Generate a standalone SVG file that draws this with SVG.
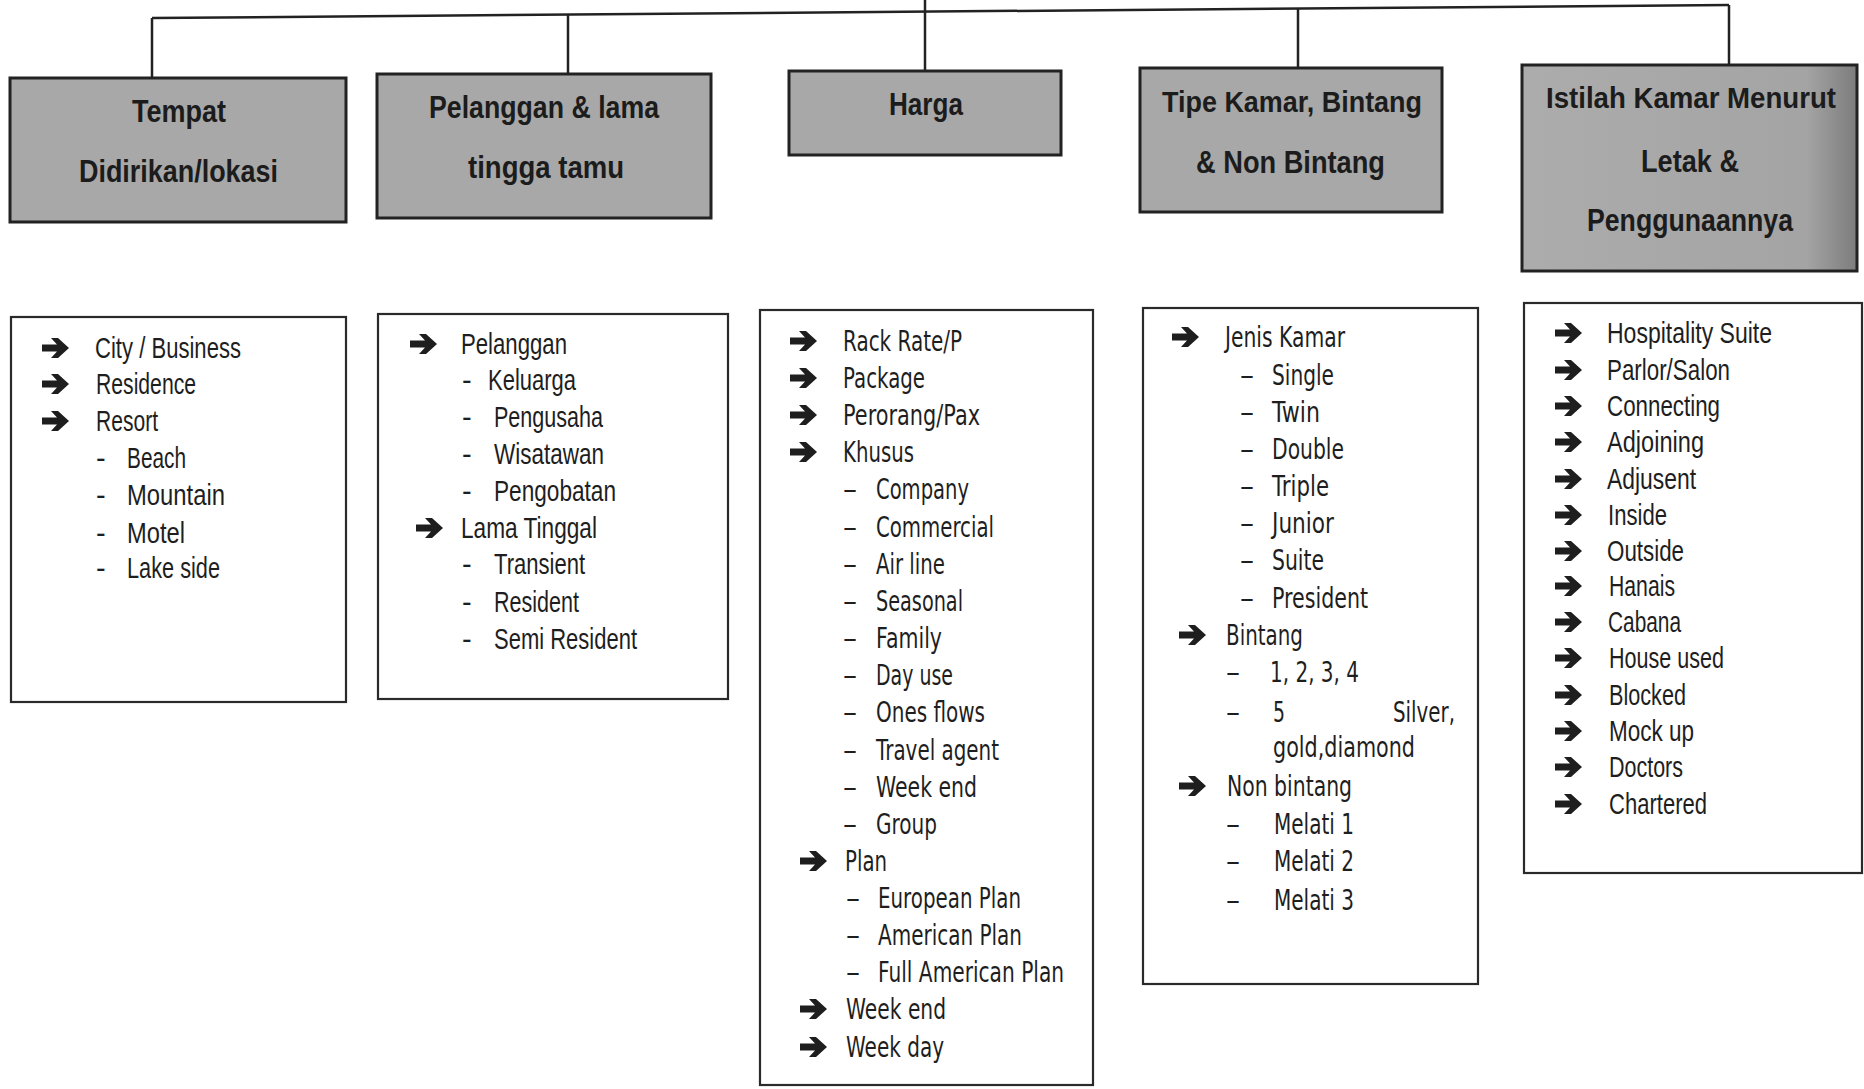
<svg xmlns="http://www.w3.org/2000/svg" xmlns:xlink="http://www.w3.org/1999/xlink" width="1864" height="1089" viewBox="0 0 1864 1089">
<style>
.hdr{fill:#a8a8a8;stroke:#222;stroke-width:3}
.hdrt{font-family:"Liberation Sans Narrow","Liberation Sans",Arial,sans-serif;font-weight:bold;font-size:32px;fill:#1c1c1c}
.box{fill:#fff;stroke:#2a2a2a;stroke-width:2.2}
.c{font-family:"Liberation Sans Narrow","Liberation Sans",Arial,sans-serif;font-size:29px;fill:#1e1e1e}
.w{font-family:"DejaVu Sans","Liberation Sans",Verdana,sans-serif;font-size:28px;fill:#1e1e1e}
.ln{stroke:#222;stroke-width:2.5;fill:none}
.arr{fill:#1e1e1e}
</style>
<defs>
<path id="arr" class="arr" d="M0,-3.5 H15 L9,-10 H16 L27,0 L16,10 H9 L15,3.5 H0 Z"/>
<linearGradient id="g5" x1="0" y1="0" x2="1" y2="0">
<stop offset="0" stop-color="#acacac"/>
<stop offset="0.85" stop-color="#a4a4a4"/>
<stop offset="1" stop-color="#7c7c7c"/>
</linearGradient>
</defs>
<rect width="1864" height="1089" fill="#fff"/>

<g id="connectors">
<line class="ln" x1="152" y1="18" x2="1729" y2="5"/>
<line class="ln" x1="925" y1="0" x2="925" y2="71"/>
<line class="ln" x1="152" y1="18" x2="152" y2="78"/>
<line class="ln" x1="568" y1="14.5" x2="568" y2="74"/>
<line class="ln" x1="1298" y1="8.5" x2="1298" y2="68"/>
<line class="ln" x1="1729" y1="5" x2="1729" y2="65"/>
</g>

<g id="h1">
<rect class="hdr" x="10" y="78" width="336" height="144"/>
<text class="hdrt" x="132" y="122" textLength="94" lengthAdjust="spacingAndGlyphs">Tempat</text>
<text class="hdrt" x="79" y="182" textLength="199" lengthAdjust="spacingAndGlyphs">Didirikan/lokasi</text>
</g>
<g id="h2">
<rect class="hdr" x="377" y="74" width="334" height="144"/>
<text class="hdrt" x="429" y="118" textLength="230" lengthAdjust="spacingAndGlyphs">Pelanggan &amp; lama</text>
<text class="hdrt" x="468" y="178" textLength="156" lengthAdjust="spacingAndGlyphs">tingga tamu</text>
</g>
<g id="h3">
<rect class="hdr" x="789" y="71" width="272" height="84"/>
<text class="hdrt" x="889" y="115" textLength="74" lengthAdjust="spacingAndGlyphs">Harga</text>
</g>
<g id="h4">
<rect class="hdr" x="1140" y="68" width="302" height="144"/>
<text class="hdrt" x="1162" y="112" textLength="260" lengthAdjust="spacingAndGlyphs" style="font-size:30px">Tipe Kamar, Bintang</text>
<text class="hdrt" x="1196" y="173" textLength="189" lengthAdjust="spacingAndGlyphs">&amp; Non Bintang</text>
</g>
<g id="h5">
<rect class="hdr" x="1522" y="65" width="335" height="206" style="fill:url(#g5)"/>
<text class="hdrt" x="1546" y="108" textLength="290" lengthAdjust="spacingAndGlyphs" style="font-size:30px">Istilah Kamar Menurut</text>
<text class="hdrt" x="1641" y="172" textLength="98" lengthAdjust="spacingAndGlyphs">Letak &amp;</text>
<text class="hdrt" x="1587" y="231" textLength="206" lengthAdjust="spacingAndGlyphs">Penggunaannya</text>
</g>

<g id="c1">
<rect class="box" x="11" y="317" width="335" height="385"/>
<use href="#arr" x="42" y="348"/>
<text class="c" x="95" y="358" textLength="146" lengthAdjust="spacingAndGlyphs">City / Business</text>
<use href="#arr" x="42" y="384"/>
<text class="c" x="96" y="394" textLength="100" lengthAdjust="spacingAndGlyphs">Residence</text>
<use href="#arr" x="42" y="421"/>
<text class="c" x="96" y="431" textLength="62" lengthAdjust="spacingAndGlyphs">Resort</text>
<text class="c" x="96" y="468">-</text>
<text class="c" x="127" y="468" textLength="59" lengthAdjust="spacingAndGlyphs">Beach</text>
<text class="c" x="96" y="505">-</text>
<text class="c" x="127" y="505" textLength="98" lengthAdjust="spacingAndGlyphs">Mountain</text>
<text class="c" x="96" y="543">-</text>
<text class="c" x="127" y="543" textLength="58" lengthAdjust="spacingAndGlyphs">Motel</text>
<text class="c" x="96" y="578">-</text>
<text class="c" x="127" y="578" textLength="93" lengthAdjust="spacingAndGlyphs">Lake side</text>
</g>

<g id="c2">
<rect class="box" x="378" y="314" width="350" height="385"/>
<use href="#arr" x="410" y="344"/>
<text class="c" x="461" y="354" textLength="106" lengthAdjust="spacingAndGlyphs">Pelanggan</text>
<text class="c" x="462" y="390">-</text>
<text class="c" x="488" y="390" textLength="88" lengthAdjust="spacingAndGlyphs">Keluarga</text>
<text class="c" x="462" y="427">-</text>
<text class="c" x="494" y="427" textLength="109" lengthAdjust="spacingAndGlyphs">Pengusaha</text>
<text class="c" x="462" y="464">-</text>
<text class="c" x="494" y="464" textLength="110" lengthAdjust="spacingAndGlyphs">Wisatawan</text>
<text class="c" x="462" y="501">-</text>
<text class="c" x="494" y="501" textLength="122" lengthAdjust="spacingAndGlyphs">Pengobatan</text>
<use href="#arr" x="416" y="528"/>
<text class="c" x="461" y="538" textLength="136" lengthAdjust="spacingAndGlyphs">Lama Tinggal</text>
<text class="c" x="462" y="574">-</text>
<text class="c" x="494" y="574" textLength="91" lengthAdjust="spacingAndGlyphs">Transient</text>
<text class="c" x="462" y="612">-</text>
<text class="c" x="494" y="612" textLength="85" lengthAdjust="spacingAndGlyphs">Resident</text>
<text class="c" x="462" y="649">-</text>
<text class="c" x="494" y="649" textLength="143" lengthAdjust="spacingAndGlyphs">Semi Resident</text>
</g>

<g id="c3">
<rect class="box" x="760" y="310" width="333" height="775"/>
<use href="#arr" x="790" y="341"/>
<text class="w" x="843" y="351" textLength="119" lengthAdjust="spacingAndGlyphs">Rack Rate/P</text>
<use href="#arr" x="790" y="378"/>
<text class="w" x="843" y="388" textLength="82" lengthAdjust="spacingAndGlyphs">Package</text>
<use href="#arr" x="790" y="415"/>
<text class="w" x="843" y="425" textLength="137" lengthAdjust="spacingAndGlyphs">Perorang/Pax</text>
<use href="#arr" x="790" y="452"/>
<text class="w" x="843" y="462" textLength="71" lengthAdjust="spacingAndGlyphs">Khusus</text>
<text class="w" x="843" y="499">–</text>
<text class="w" x="876" y="499" textLength="93" lengthAdjust="spacingAndGlyphs">Company</text>
<text class="w" x="843" y="537">–</text>
<text class="w" x="876" y="537" textLength="118" lengthAdjust="spacingAndGlyphs">Commercial</text>
<text class="w" x="843" y="574">–</text>
<text class="w" x="876" y="574" textLength="69" lengthAdjust="spacingAndGlyphs">Air line</text>
<text class="w" x="843" y="611">–</text>
<text class="w" x="876" y="611" textLength="87" lengthAdjust="spacingAndGlyphs">Seasonal</text>
<text class="w" x="843" y="648">–</text>
<text class="w" x="876" y="648" textLength="66" lengthAdjust="spacingAndGlyphs">Family</text>
<text class="w" x="843" y="685">–</text>
<text class="w" x="876" y="685" textLength="77" lengthAdjust="spacingAndGlyphs">Day use</text>
<text class="w" x="843" y="722">–</text>
<text class="w" x="876" y="722" textLength="109" lengthAdjust="spacingAndGlyphs">Ones flows</text>
<text class="w" x="843" y="760">–</text>
<text class="w" x="876" y="760" textLength="123" lengthAdjust="spacingAndGlyphs">Travel agent</text>
<text class="w" x="843" y="797">–</text>
<text class="w" x="876" y="797" textLength="101" lengthAdjust="spacingAndGlyphs">Week end</text>
<text class="w" x="843" y="834">–</text>
<text class="w" x="876" y="834" textLength="61" lengthAdjust="spacingAndGlyphs">Group</text>
<use href="#arr" x="800" y="861"/>
<text class="w" x="845" y="871" textLength="42" lengthAdjust="spacingAndGlyphs">Plan</text>
<text class="w" x="846" y="908">–</text>
<text class="w" x="878" y="908" textLength="143" lengthAdjust="spacingAndGlyphs">European Plan</text>
<text class="w" x="846" y="945">–</text>
<text class="w" x="878" y="945" textLength="144" lengthAdjust="spacingAndGlyphs">American Plan</text>
<text class="w" x="846" y="982">–</text>
<text class="w" x="878" y="982" textLength="186" lengthAdjust="spacingAndGlyphs">Full American Plan</text>
<use href="#arr" x="800" y="1009"/>
<text class="w" x="846" y="1019" textLength="100" lengthAdjust="spacingAndGlyphs">Week end</text>
<use href="#arr" x="800" y="1047"/>
<text class="w" x="846" y="1057" textLength="98" lengthAdjust="spacingAndGlyphs">Week day</text>
</g>

<g id="c4">
<rect class="box" x="1143" y="308" width="335" height="676"/>
<use href="#arr" x="1172" y="337"/>
<text class="w" x="1225" y="347" textLength="120" lengthAdjust="spacingAndGlyphs">Jenis Kamar</text>
<text class="w" x="1240" y="385">–</text>
<text class="w" x="1272" y="385" textLength="62" lengthAdjust="spacingAndGlyphs">Single</text>
<text class="w" x="1240" y="422">–</text>
<text class="w" x="1272" y="422" textLength="48" lengthAdjust="spacingAndGlyphs">Twin</text>
<text class="w" x="1240" y="459">–</text>
<text class="w" x="1272" y="459" textLength="72" lengthAdjust="spacingAndGlyphs">Double</text>
<text class="w" x="1240" y="496">–</text>
<text class="w" x="1272" y="496" textLength="57" lengthAdjust="spacingAndGlyphs">Triple</text>
<text class="w" x="1240" y="533">–</text>
<text class="w" x="1272" y="533" textLength="62" lengthAdjust="spacingAndGlyphs">Junior</text>
<text class="w" x="1240" y="570">–</text>
<text class="w" x="1272" y="570" textLength="52" lengthAdjust="spacingAndGlyphs">Suite</text>
<text class="w" x="1240" y="608">–</text>
<text class="w" x="1272" y="608" textLength="96" lengthAdjust="spacingAndGlyphs">President</text>
<use href="#arr" x="1179" y="635"/>
<text class="w" x="1226" y="645" textLength="77" lengthAdjust="spacingAndGlyphs">Bintang</text>
<text class="w" x="1226" y="682">–</text>
<text class="w" x="1270" y="682" textLength="89" lengthAdjust="spacingAndGlyphs">1, 2, 3, 4</text>
<text class="w" x="1226" y="722">–</text>
<text class="w" x="1273" y="722" textLength="12" lengthAdjust="spacingAndGlyphs">5</text>
<text class="w" x="1393" y="722" textLength="62" lengthAdjust="spacingAndGlyphs">Silver,</text>
<text class="w" x="1273" y="757" textLength="142" lengthAdjust="spacingAndGlyphs">gold,diamond</text>
<use href="#arr" x="1179" y="786"/>
<text class="w" x="1227" y="796" textLength="125" lengthAdjust="spacingAndGlyphs">Non bintang</text>
<text class="w" x="1226" y="834">–</text>
<text class="w" x="1274" y="834" textLength="80" lengthAdjust="spacingAndGlyphs">Melati 1</text>
<text class="w" x="1226" y="871">–</text>
<text class="w" x="1274" y="871" textLength="80" lengthAdjust="spacingAndGlyphs">Melati 2</text>
<text class="w" x="1226" y="910">–</text>
<text class="w" x="1274" y="910" textLength="80" lengthAdjust="spacingAndGlyphs">Melati 3</text>
</g>

<g id="c5">
<rect class="box" x="1524" y="303" width="338" height="570"/>
<use href="#arr" x="1555" y="333"/>
<text class="c" x="1607" y="343" textLength="165" lengthAdjust="spacingAndGlyphs">Hospitality Suite</text>
<use href="#arr" x="1555" y="370"/>
<text class="c" x="1607" y="380" textLength="123" lengthAdjust="spacingAndGlyphs">Parlor/Salon</text>
<use href="#arr" x="1555" y="406"/>
<text class="c" x="1607" y="416" textLength="113" lengthAdjust="spacingAndGlyphs">Connecting</text>
<use href="#arr" x="1555" y="442"/>
<text class="c" x="1607" y="452" textLength="97" lengthAdjust="spacingAndGlyphs">Adjoining</text>
<use href="#arr" x="1555" y="479"/>
<text class="c" x="1607" y="489" textLength="89" lengthAdjust="spacingAndGlyphs">Adjusent</text>
<use href="#arr" x="1555" y="515"/>
<text class="c" x="1608" y="525" textLength="59" lengthAdjust="spacingAndGlyphs">Inside</text>
<use href="#arr" x="1555" y="551"/>
<text class="c" x="1607" y="561" textLength="77" lengthAdjust="spacingAndGlyphs">Outside</text>
<use href="#arr" x="1555" y="586"/>
<text class="c" x="1609" y="596" textLength="66" lengthAdjust="spacingAndGlyphs">Hanais</text>
<use href="#arr" x="1555" y="622"/>
<text class="c" x="1608" y="632" textLength="73" lengthAdjust="spacingAndGlyphs">Cabana</text>
<use href="#arr" x="1555" y="658"/>
<text class="c" x="1609" y="668" textLength="115" lengthAdjust="spacingAndGlyphs">House used</text>
<use href="#arr" x="1555" y="695"/>
<text class="c" x="1609" y="705" textLength="77" lengthAdjust="spacingAndGlyphs">Blocked</text>
<use href="#arr" x="1555" y="731"/>
<text class="c" x="1609" y="741" textLength="85" lengthAdjust="spacingAndGlyphs">Mock up</text>
<use href="#arr" x="1555" y="767"/>
<text class="c" x="1609" y="777" textLength="74" lengthAdjust="spacingAndGlyphs">Doctors</text>
<use href="#arr" x="1555" y="804"/>
<text class="c" x="1609" y="814" textLength="98" lengthAdjust="spacingAndGlyphs">Chartered</text>
</g>
</svg>
